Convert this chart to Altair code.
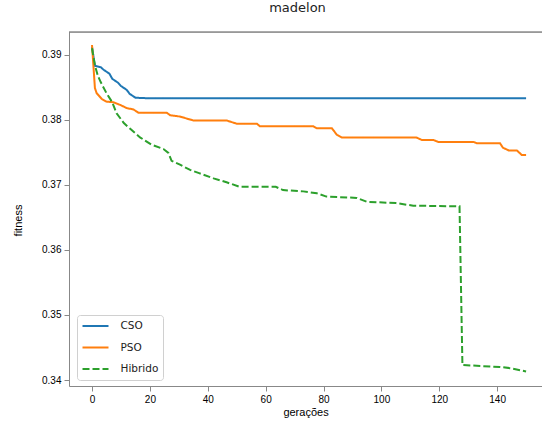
import altair as alt
import pandas as pd

# Series names and colours
series_names = ["CSO", "PSO", "Hibrido"]
series_colors = ["#1f77b4", "#ff7f0e", "#2ca02c"]
series_dash = [[1, 0], [1, 0], [7, 3]]

# Best fitness per generation (points where the curve changes)
cso_gen = [0, 1, 3, 4, 6, 7, 9, 10, 12, 13, 15, 20, 40, 150]
cso_fit = [0.3912, 0.3883, 0.3881, 0.3877, 0.3871, 0.3863, 0.3857, 0.3852,
           0.3846, 0.3840, 0.3834, 0.3833, 0.3833, 0.3833]

pso_gen = [0, 1, 1.6, 3.4, 5, 7.4, 9.7, 12, 14.3, 16, 25.8, 27, 30.4, 35, 46.5,
           50, 57, 58, 76.5, 77.7, 82.9, 84.6, 86.3, 112, 114, 118, 119.7,
           131.8, 133, 141, 142, 144, 146.8, 148.5, 150]
pso_fit = [0.3915, 0.3849, 0.3841, 0.3832, 0.3828, 0.3827, 0.3823, 0.3818,
           0.3816, 0.3811, 0.3811, 0.3807, 0.3805, 0.3799, 0.3799, 0.3794,
           0.3794, 0.3790, 0.3790, 0.3787, 0.3787, 0.3777, 0.3773, 0.3773,
           0.3769, 0.3769, 0.3766, 0.3766, 0.3764, 0.3764, 0.3757, 0.3753,
           0.3753, 0.3746, 0.3746]

hib_gen = [0, 1, 2, 3, 5, 7, 8.5, 11, 13, 16.6, 20.5, 24.7, 26.4, 27.5, 30.4,
           33.9, 37, 42, 46.5, 51, 63.5, 66, 73, 77.7, 81, 91.5, 95, 105, 111,
           127, 128, 141, 145, 150]
hib_fit = [0.3910, 0.3884, 0.3868, 0.3858, 0.3841, 0.3827, 0.3810, 0.3795,
           0.3787, 0.3773, 0.3762, 0.3755, 0.3749, 0.3737, 0.3731, 0.3723,
           0.3718, 0.3710, 0.3704, 0.3697, 0.3697, 0.3692, 0.3690, 0.3687,
           0.3682, 0.3680, 0.3674, 0.3672, 0.3668, 0.3667, 0.3423, 0.3420,
           0.3418, 0.3413]

x_ticks = [0, 20, 40, 60, 80, 100, 120, 140]
y_ticks = [0.34, 0.35, 0.36, 0.37, 0.38, 0.39]

rows = []
for name, gens, fits in zip(series_names,
                            [cso_gen, pso_gen, hib_gen],
                            [cso_fit, pso_fit, hib_fit]):
    for g, f in zip(gens, fits):
        rows.append({"serie": name, "geracao": g, "fitness": f})
df = pd.DataFrame(rows)

FONT = "DejaVu Sans"
W, H = 473, 354

legend = alt.Legend(
    title=None, orient="none", legendX=8, legendY=283,
    padding=4.5, clipHeight=13, rowPadding=8.5,
    symbolType="stroke", symbolSize=676, symbolStrokeWidth=2,
    labelOffset=11, labelFont=FONT, labelFontSize=10.5, labelColor="#222",
    strokeColor="#d0d0d0", fillColor="rgba(255,255,255,0.8)", cornerRadius=3,
)

lines = alt.Chart(df).mark_line(strokeWidth=2, clip=True).encode(
    x=alt.X("geracao:Q",
            scale=alt.Scale(domain=[-7.95, 155.5], nice=False, zero=False),
            axis=alt.Axis(values=x_ticks, title="gerações", grid=False,
                          labelPadding=3, titlePadding=2,
                          titleFontWeight="normal")),
    y=alt.Y("fitness:Q",
            scale=alt.Scale(domain=[0.33908, 0.3935], nice=False, zero=False),
            axis=alt.Axis(values=y_ticks, format=".2f", title="fitness",
                          grid=False, labelPadding=3, titleX=-51, titleY=188,
                          titleBaseline="middle", titleAlign="center",
                          titleFontWeight="normal")),
    color=alt.Color("serie:N",
                    scale=alt.Scale(domain=series_names, range=series_colors),
                    legend=legend),
    strokeDash=alt.StrokeDash("serie:N",
                              scale=alt.Scale(domain=series_names,
                                              range=series_dash),
                              legend=legend),
)

# top edge of the frame
top_edge = alt.Chart(pd.DataFrame({"k": [0]})).mark_rule(
    color="#555", strokeWidth=1
).encode(x=alt.value(0), x2=alt.value(W), y=alt.value(0))

chart = alt.layer(lines, top_edge).properties(
    width=W, height=H,
    padding={"left": 69, "top": 32, "right": 0, "bottom": 41},
    autosize=alt.AutoSizeParams(type="none"),
    title=alt.Title("madelon", font=FONT, fontSize=13, fontWeight="normal",
                    anchor="middle", dx=-8, offset=7, baseline="alphabetic",
                    color="#222"),
).configure_view(stroke=None).configure_axis(
    labelFont=FONT, labelFontSize=10.5, labelColor="#222",
    titleFont=FONT, titleFontSize=10.5, titleFontWeight="normal",
    titleColor="#222", tickColor="#555", domainColor="#555",
    tickSize=3.5, tickWidth=1, domainWidth=1,
).configure(background="white")

chart.save("out.html", embed_options={"renderer": "svg", "actions": False})
